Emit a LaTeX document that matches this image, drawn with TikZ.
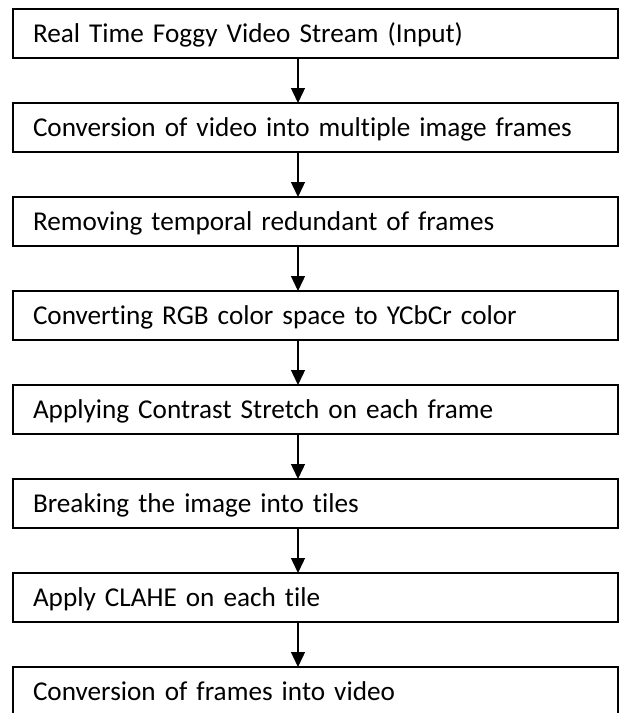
\documentclass[tikz,border=0pt]{standalone}
\usepackage{fontspec}
\setmainfont{Carlito}[Ligatures=NoCommon, WordSpace=0.8]
\usetikzlibrary{arrows.meta, positioning}
\tikzset{stepbox/.style={draw, line width=0.7pt, outer sep=0pt, minimum height=24.5pt, text width=282.5pt, inner xsep=10pt, align=left, text height=1em, text depth=0.1em, font=\fontsize{13.6}{15}\selectfont}}

\begin{document}
\begin{tikzpicture}[x=0.5pt, y=0.5pt, >={Triangle[width=7pt, length=7.5pt]}, line width=0.7pt, node distance=22.5pt]
\useasboundingbox (0,0) rectangle (619,-713);
\node[stepbox] (s1) at (315.5,-33.5) {Real Time Foggy Video Stream (Input)};
\node[stepbox, below=of s1] (s2) {Conversion of video into multiple image frames};
\node[stepbox, below=of s2] (s3) {Removing temporal redundant of frames};
\node[stepbox, below=of s3] (s4) {Converting RGB color space to YCbCr color};
\node[stepbox, below=of s4] (s5) {Applying Contrast Stretch on each frame};
\node[stepbox, below=of s5] (s6) {Breaking the image into tiles};
\node[stepbox, below=of s6] (s7) {Apply CLAHE on each tile};
\node[stepbox, below=of s7] (s8) {Conversion of frames into video};
\foreach \a/\b in {s1/s2, s2/s3, s3/s4, s4/s5, s5/s6, s6/s7, s7/s8}
  \draw [->] ([xshift=-8.75pt]\a.south) -- ([xshift=-8.75pt]\b.north);
\end{tikzpicture}
\end{document}
